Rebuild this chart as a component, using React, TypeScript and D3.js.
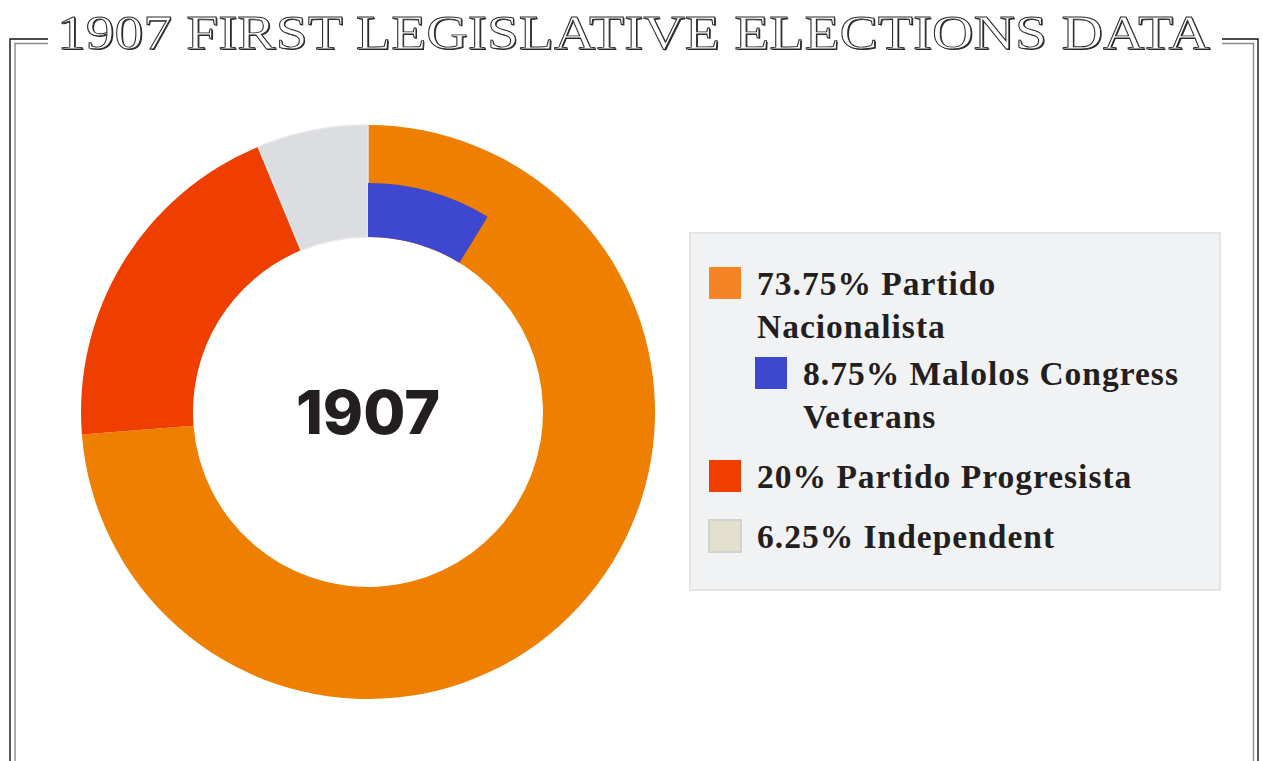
import { useMemo } from 'react';
import * as d3 from 'd3';

// party shares, 1907 first legislative elections
const parties = ['Partido Nacionalista', 'Partido Progresista', 'Independent'];
const shares = [73.75, 20, 6.25];
const donutColors = ['#ee7f00', '#ee3f00', '#dcdde0'];

// sub-group drawn inside the Nacionalista slice
const subShare = 8.75;
const subColor = '#3d47cf';

// legend rows (the Malolos row is nested under Nacionalista)
const legendNames = ['Partido Nacionalista', 'Malolos Congress Veterans', 'Partido Progresista', 'Independent'];
const legendValues = [73.75, 8.75, 20, 6.25];
const legendColors = ['#f58424', '#3d47cf', '#ee3f00', '#e2e0cc'];
const legendNested = [false, true, false, false];

const title = '1907 FIRST LEGISLATIVE ELECTIONS DATA';
const centerLabel = '1907';

const W = 1263;
const H = 761;
const legendSize = 33.5;
const legendSpacing = 1;
const legendFont = `bold ${legendSize}px "Liberation Serif"`;

const measure = (() => {
  const ctx = document.createElement('canvas').getContext('2d');
  return (txt: string) => {
    if (!ctx) return txt.length * 16;
    ctx.font = legendFont;
    return ctx.measureText(txt).width + txt.length * legendSpacing;
  };
})();

// 折行：超過寬度就換行
const wrap = (txt: string, maxW: number) => {
  const words = txt.split(' ');
  const lines: string[] = [];
  let cur = '';
  words.forEach((w) => {
    const next = cur ? cur + ' ' + w : w;
    if (cur && measure(next) > maxW) {
      lines.push(cur);
      cur = w;
    } else cur = next;
  });
  if (cur) lines.push(cur);
  return lines;
};

export default function App() {
  const cx = 368;
  const cy = 412;
  const outerR = 287;
  const innerR = 175;
  const subOuterR = 229;

  const arcs = useMemo(() => {
    const pie = d3.pie<number>().sort(null).value((d) => d);
    return pie(shares);
  }, []);

  const arcGen = d3.arc<d3.PieArcDatum<number>>().innerRadius(innerR).outerRadius(outerR);

  const angle = d3.scaleLinear().domain([0, 100]).range([0, 2 * Math.PI]);
  const subArc = d3
    .arc()
    .innerRadius(innerR)
    .outerRadius(subOuterR)
    .startAngle(0)
    .endAngle(angle(subShare));

  // legend layout
  const box = { x: 690, y: 233, w: 530, h: 357 };
  const lineH = 43;
  const sw = 32;
  let yBase = 295;
  const rows = legendNames.map((name, i) => {
    const sx = legendNested[i] ? 755 : 709;
    const tx = sx + 48;
    const lines = wrap(`${legendValues[i]}% ${name}`, 420);
    const row = { sx, tx, y: yBase, lines, color: legendColors[i], i };
    const nextNested = legendNested[i + 1];
    yBase += lines.length * lineH + (nextNested ? 4 : 17);
    return row;
  });

  return (
    <div style={{ position: 'absolute', left: 0, top: 0, width: W, height: H, background: '#fff' }}>
      <svg width={W} height={H} style={{ display: 'block' }}>
        <rect width={W} height={H} fill="#fff" />

        {/* 雙線外框 */}
        <path d="M48,39 H10 V761 M1222,39 H1258 V761" fill="none" stroke="#111" strokeWidth={1.4} />
        <path d="M48,43.5 H15 V761 M1222,43.5 H1253.5 V761" fill="none" stroke="#8a8a8a" strokeWidth={1.4} />

        {/* title */}
        <g fontFamily='"Liberation Serif", serif' fontSize={48}>
          <text x={58.2} y={50.2} textLength={1153} lengthAdjust="spacingAndGlyphs" fill="#2a2a2a">
            {title}
          </text>
          <text
            x={57}
            y={49}
            textLength={1153}
            lengthAdjust="spacingAndGlyphs"
            fill="#fff"
            stroke="#2a2a2a"
            strokeWidth={0.9}
          >
            {title}
          </text>
        </g>

        {/* donut */}
        <g transform={`translate(${cx},${cy})`}>
          {arcs.map((a, i) => (
            <path key={parties[i]} d={arcGen(a) || ''} fill={donutColors[i]} stroke={i === 2 ? '#e6e7e9' : 'none'} strokeWidth={1.5} />
          ))}
          <path d={(subArc as any)() || ''} fill={subColor} />
          <text
            x={0}
            y={22}
            textAnchor="middle"
            fontFamily="Inter, sans-serif"
            fontWeight={800}
            fontSize={61}
            fill="#231f20"
          >
            {centerLabel}
          </text>
        </g>

        {/* legend */}
        <rect x={box.x} y={box.y} width={box.w} height={box.h} fill="#f1f2f4" stroke="#e3e4e6" strokeWidth={2} />
        {rows.map((r) => (
          <g key={legendNames[r.i]}>
            <rect
              x={r.sx}
              y={r.y - 12 - sw / 2}
              width={sw}
              height={sw}
              fill={r.color}
              stroke={r.i === 3 ? '#d2d2d0' : 'none'}
              strokeWidth={2}
            />
            <text
              x={r.tx}
              y={r.y}
              fontFamily='"Liberation Serif", serif'
              fontWeight="bold"
              fontSize={legendSize}
              letterSpacing={legendSpacing}
              fill="#231f20"
            >
              {r.lines.map((l, k) => (
                <tspan key={k} x={r.tx} y={r.y + k * lineH}>
                  {l}
                </tspan>
              ))}
            </text>
          </g>
        ))}
      </svg>
    </div>
  );
}
